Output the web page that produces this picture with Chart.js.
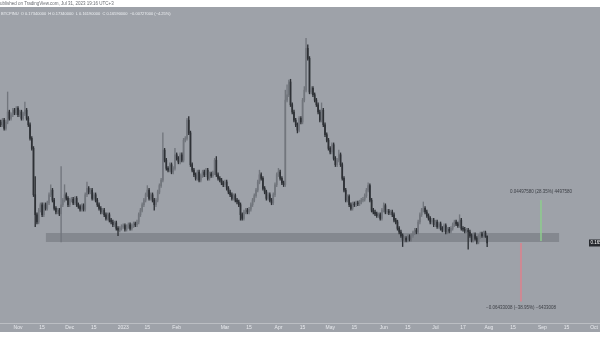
<!DOCTYPE html>
<html>
<head>
<meta charset="utf-8">
<script src="https://cdn.jsdelivr.net/npm/chart.js@4.4.0/dist/chart.umd.min.js"></script>
<style>
  html, body { margin: 0; padding: 0; background: #fff; }
  #wrap { width: 600px; height: 343px; position: relative; }
</style>
</head>
<body>
<div id="wrap"><canvas id="candles"></canvas></div>
<script>
// day 0 = 1 Nov 2022, one candle per day
const firstDay = -10;

// [open, high, low, close]
const ohlc = [
  // late Oct 2022
  [0.299,0.301,0.294,0.296],[0.296,0.303,0.294,0.301],[0.301,0.303,0.290,0.292],[0.292,0.301,0.290,0.299],
  [0.299,0.332,0.297,0.310],[0.310,0.312,0.301,0.303],[0.303,0.309,0.301,0.307],[0.307,0.314,0.305,0.312],
  [0.312,0.314,0.307,0.309],[0.309,0.316,0.307,0.314],
  // Nov
  [0.314,0.316,0.305,0.307],[0.307,0.312,0.305,0.310],[0.310,0.312,0.301,0.303],[0.303,0.310,0.301,0.308],
  [0.308,0.321,0.306,0.312],[0.312,0.314,0.301,0.303],[0.303,0.305,0.294,0.296],[0.296,0.298,0.279,0.281],
  [0.281,0.283,0.268,0.270],[0.270,0.272,0.217,0.219],[0.219,0.239,0.184,0.197],[0.197,0.199,0.187,0.189],
  [0.189,0.204,0.187,0.202],[0.202,0.210,0.200,0.208],[0.208,0.210,0.195,0.197],[0.197,0.210,0.195,0.208],
  [0.208,0.210,0.202,0.204],[0.204,0.212,0.202,0.210],[0.210,0.221,0.208,0.219],[0.219,0.230,0.217,0.224],
  [0.224,0.226,0.211,0.213],[0.213,0.215,0.202,0.204],[0.204,0.206,0.198,0.200],[0.200,0.204,0.198,0.202],
  [0.202,0.204,0.196,0.198],[0.198,0.250,0.167,0.208],[0.208,0.215,0.206,0.213],[0.213,0.230,0.211,0.219],
  [0.219,0.221,0.213,0.215],[0.215,0.217,0.206,0.208],
  // Dec
  [0.208,0.215,0.206,0.213],[0.213,0.216,0.211,0.214],[0.214,0.216,0.208,0.210],[0.210,0.217,0.208,0.215],
  [0.215,0.217,0.206,0.208],[0.208,0.210,0.204,0.206],[0.206,0.208,0.201,0.203],[0.203,0.209,0.201,0.207],
  [0.207,0.209,0.201,0.203],[0.203,0.221,0.201,0.219],[0.219,0.233,0.217,0.226],[0.226,0.228,0.220,0.222],
  [0.222,0.226,0.220,0.224],[0.224,0.226,0.213,0.215],[0.215,0.221,0.213,0.219],[0.219,0.221,0.211,0.213],
  [0.213,0.215,0.206,0.208],[0.208,0.210,0.202,0.204],[0.204,0.206,0.198,0.200],[0.200,0.204,0.198,0.202],
  [0.202,0.204,0.195,0.197],[0.197,0.199,0.191,0.193],[0.193,0.199,0.191,0.197],[0.197,0.199,0.189,0.191],
  [0.191,0.193,0.187,0.189],[0.189,0.191,0.184,0.186],[0.186,0.190,0.184,0.188],[0.188,0.190,0.180,0.182],
  [0.182,0.184,0.174,0.180],[0.180,0.184,0.178,0.182],[0.182,0.186,0.180,0.184],
  // Jan 2023
  [0.184,0.187,0.182,0.185],[0.185,0.187,0.179,0.181],[0.181,0.186,0.179,0.184],[0.184,0.188,0.182,0.186],
  [0.186,0.188,0.180,0.182],[0.182,0.187,0.180,0.185],[0.185,0.189,0.183,0.187],[0.187,0.189,0.184,0.186],
  [0.186,0.191,0.184,0.189],[0.189,0.199,0.187,0.197],[0.197,0.204,0.195,0.202],[0.202,0.210,0.200,0.208],
  [0.208,0.215,0.206,0.213],[0.213,0.221,0.211,0.219],[0.219,0.229,0.217,0.224],[0.224,0.226,0.213,0.215],
  [0.215,0.221,0.213,0.219],[0.219,0.221,0.211,0.213],[0.213,0.215,0.202,0.208],[0.208,0.215,0.206,0.213],
  [0.213,0.224,0.211,0.222],[0.222,0.231,0.220,0.229],[0.229,0.237,0.227,0.235],[0.235,0.287,0.233,0.268],
  [0.268,0.270,0.255,0.257],[0.257,0.259,0.246,0.248],[0.248,0.250,0.244,0.246],[0.246,0.254,0.244,0.252],
  [0.252,0.254,0.242,0.244],[0.244,0.250,0.242,0.248],[0.248,0.270,0.246,0.263],
  // Feb
  [0.263,0.265,0.257,0.259],[0.259,0.261,0.253,0.255],[0.255,0.265,0.253,0.263],[0.263,0.265,0.255,0.257],
  [0.257,0.281,0.255,0.279],[0.279,0.283,0.277,0.281],[0.281,0.303,0.279,0.301],[0.301,0.305,0.285,0.287],
  [0.287,0.289,0.250,0.252],[0.252,0.254,0.244,0.246],[0.246,0.248,0.239,0.241],[0.241,0.243,0.235,0.237],
  [0.237,0.246,0.235,0.244],[0.244,0.246,0.233,0.235],[0.235,0.242,0.233,0.240],[0.240,0.246,0.238,0.244],
  [0.244,0.246,0.239,0.241],[0.241,0.248,0.239,0.246],[0.246,0.248,0.235,0.237],[0.237,0.244,0.235,0.242],
  [0.242,0.244,0.238,0.240],[0.240,0.245,0.238,0.243],[0.243,0.259,0.241,0.257],[0.257,0.261,0.239,0.241],
  [0.241,0.243,0.235,0.237],[0.237,0.239,0.233,0.235],[0.235,0.237,0.230,0.232],[0.232,0.234,0.228,0.230],
  // Mar
  [0.230,0.235,0.228,0.233],[0.233,0.235,0.224,0.226],[0.226,0.228,0.220,0.222],[0.222,0.224,0.217,0.219],
  [0.219,0.221,0.213,0.215],[0.215,0.220,0.213,0.218],[0.218,0.220,0.211,0.213],[0.213,0.215,0.209,0.211],
  [0.211,0.213,0.206,0.208],[0.208,0.210,0.191,0.197],[0.197,0.199,0.191,0.193],[0.193,0.202,0.191,0.200],
  [0.200,0.204,0.198,0.202],[0.202,0.204,0.198,0.200],[0.200,0.205,0.198,0.203],[0.203,0.210,0.201,0.208],
  [0.208,0.215,0.206,0.213],[0.213,0.220,0.211,0.218],[0.218,0.226,0.216,0.224],[0.224,0.235,0.222,0.233],
  [0.233,0.246,0.231,0.241],[0.241,0.243,0.235,0.237],[0.237,0.239,0.224,0.226],[0.226,0.228,0.220,0.222],
  [0.222,0.224,0.213,0.215],[0.215,0.221,0.213,0.219],[0.219,0.221,0.211,0.213],[0.213,0.215,0.208,0.210],
  [0.210,0.221,0.208,0.219],[0.219,0.232,0.217,0.230],[0.230,0.243,0.228,0.241],
  // Apr
  [0.241,0.248,0.239,0.244],[0.244,0.246,0.235,0.237],[0.237,0.239,0.230,0.232],[0.232,0.234,0.228,0.230],
  [0.230,0.334,0.228,0.323],[0.323,0.340,0.321,0.329],[0.329,0.345,0.327,0.343],[0.343,0.346,0.316,0.318],
  [0.318,0.320,0.308,0.310],[0.310,0.312,0.299,0.301],[0.301,0.303,0.294,0.296],[0.296,0.298,0.287,0.290],
  [0.290,0.305,0.288,0.303],[0.303,0.305,0.297,0.299],[0.299,0.325,0.297,0.323],[0.323,0.338,0.321,0.334],
  [0.334,0.391,0.332,0.380],[0.380,0.384,0.367,0.369],[0.369,0.371,0.330,0.332],[0.332,0.338,0.330,0.336],
  [0.336,0.338,0.327,0.329],[0.329,0.331,0.321,0.323],[0.323,0.325,0.316,0.318],[0.318,0.320,0.308,0.310],
  [0.310,0.312,0.299,0.301],[0.301,0.320,0.299,0.312],[0.312,0.314,0.294,0.296],[0.296,0.298,0.283,0.285],
  [0.285,0.287,0.277,0.279],[0.279,0.281,0.268,0.270],
  // May
  [0.270,0.272,0.264,0.266],[0.266,0.276,0.264,0.274],[0.274,0.276,0.257,0.259],[0.259,0.261,0.250,0.252],
  [0.252,0.259,0.250,0.257],[0.257,0.268,0.255,0.263],[0.263,0.265,0.250,0.252],[0.252,0.254,0.235,0.237],
  [0.237,0.239,0.222,0.224],[0.224,0.226,0.211,0.213],[0.213,0.219,0.211,0.217],[0.217,0.219,0.206,0.208],
  [0.208,0.210,0.202,0.204],[0.204,0.211,0.202,0.209],[0.209,0.211,0.206,0.208],[0.208,0.212,0.206,0.210],
  [0.210,0.212,0.207,0.209],[0.209,0.213,0.207,0.211],[0.211,0.215,0.209,0.213],[0.213,0.216,0.211,0.214],
  [0.214,0.220,0.212,0.218],[0.218,0.226,0.216,0.224],[0.224,0.232,0.222,0.229],[0.229,0.231,0.211,0.213],
  [0.213,0.215,0.200,0.202],[0.202,0.204,0.198,0.200],[0.200,0.202,0.196,0.198],[0.198,0.200,0.194,0.196],
  [0.196,0.199,0.194,0.197],[0.197,0.199,0.191,0.193],[0.193,0.204,0.191,0.202],
  // Jun
  [0.202,0.210,0.200,0.207],[0.207,0.209,0.198,0.200],[0.200,0.203,0.198,0.201],[0.201,0.203,0.197,0.199],
  [0.199,0.202,0.197,0.200],[0.200,0.202,0.195,0.197],[0.197,0.199,0.189,0.191],[0.191,0.193,0.187,0.189],
  [0.189,0.191,0.180,0.182],[0.182,0.184,0.176,0.178],[0.178,0.180,0.172,0.174],[0.174,0.176,0.162,0.169],
  [0.169,0.173,0.167,0.171],[0.171,0.173,0.167,0.169],[0.169,0.175,0.167,0.173],[0.173,0.175,0.168,0.170],
  [0.170,0.176,0.168,0.174],[0.174,0.179,0.172,0.177],[0.177,0.182,0.175,0.180],[0.180,0.182,0.176,0.178],
  [0.178,0.191,0.176,0.189],[0.189,0.199,0.187,0.197],[0.197,0.204,0.195,0.202],[0.202,0.211,0.200,0.204],
  [0.204,0.206,0.198,0.200],[0.200,0.202,0.194,0.196],[0.196,0.198,0.191,0.193],[0.193,0.195,0.187,0.189],
  [0.189,0.193,0.187,0.191],[0.191,0.193,0.184,0.186],
  // Jul
  [0.186,0.191,0.184,0.189],[0.189,0.191,0.182,0.184],[0.184,0.189,0.182,0.187],[0.187,0.189,0.180,0.182],
  [0.182,0.184,0.178,0.180],[0.180,0.187,0.178,0.185],[0.185,0.187,0.176,0.178],[0.178,0.183,0.176,0.181],
  [0.181,0.183,0.177,0.179],[0.179,0.184,0.177,0.182],[0.182,0.188,0.180,0.186],[0.186,0.191,0.184,0.189],
  [0.189,0.191,0.185,0.187],[0.187,0.189,0.183,0.185],[0.185,0.197,0.183,0.191],[0.191,0.193,0.180,0.182],
  [0.182,0.184,0.179,0.181],[0.181,0.183,0.177,0.179],[0.179,0.182,0.177,0.180],[0.180,0.182,0.159,0.178],
  [0.178,0.180,0.172,0.174],[0.174,0.176,0.167,0.169],[0.169,0.177,0.167,0.175],[0.175,0.177,0.169,0.171],
  [0.171,0.173,0.165,0.167],[0.167,0.175,0.165,0.173],[0.173,0.178,0.171,0.176],[0.176,0.178,0.172,0.174],
  [0.174,0.179,0.172,0.177],[0.177,0.179,0.172,0.1732],[0.1734,0.1734,0.1619,0.1659]
];

const tickDays   = [0, 14, 30, 44, 61, 75, 92, 120, 134, 151, 165, 181, 195, 212, 226, 242, 258, 273, 287, 304, 318, 334];
const tickLabels = ['Nov', '15', 'Dec', '15', '2023', '15', 'Feb', 'Mar', '15', 'Apr', '15', 'May', '15', 'Jun', '15', 'Jul', '17', 'Aug', '15', 'Sep', '15', 'Oct'];

// support zone (days, prices)
const zoneDays = [16.2, 313.7];
const zonePrices = [0.1670, 0.1769];

// price range measurements: [day, from, to]
const measureUp = [303.2, 0.1680, 0.2130];
const measureDown = [291.6, 0.1659, 0.1016];
const measureUpText = '0.04497580 (28.35%) 4497580';
const measureDownText = '\u22120.06433008 (\u221238.95%) \u22126433008';

const lastPrice = 0.1659;
const publishedText = 'Published on TradingView.com, Jul 31, 2023 19:16 UTC+3';
const legendText = 'BTCPINU  O 0.17340000  H 0.17340000  L 0.16190000  C 0.16590000  \u22120.00727000 (\u22124.25%)';

const bgColor = '#9ea2a9';
const upColor = '#72767d';
const downColor = '#2e3136';
const fontFamily = '"Liberation Sans", Arial, sans-serif';

const days = ohlc.map((c, i) => firstDay + i);
const candleColor = ctx => {
  const c = ohlc[ctx.dataIndex];
  return c[3] >= c[0] ? upColor : downColor;
};

const decor = {
  id: 'decor',
  beforeDraw(chart) {
    const c = chart.ctx;
    c.save();
    c.fillStyle = '#ffffff';
    c.fillRect(0, 0, chart.width, chart.height);
    c.fillStyle = bgColor;
    c.fillRect(0, 7, chart.width, 325);
    c.restore();
  },
  beforeDatasetsDraw(chart) {
    const c = chart.ctx, x = chart.scales.x, y = chart.scales.y;
    c.save();
    c.fillStyle = 'rgba(112,115,122,0.55)';
    const x0 = x.getPixelForValue(zoneDays[0]), x1 = x.getPixelForValue(zoneDays[1]);
    const y0 = y.getPixelForValue(zonePrices[1]), y1 = y.getPixelForValue(zonePrices[0]);
    c.fillRect(x0, y0, x1 - x0, y1 - y0);
    c.restore();
  },
  afterDatasetsDraw(chart) {
    const c = chart.ctx, x = chart.scales.x, y = chart.scales.y;
    c.save();
    // measure bars
    const ux = x.getPixelForValue(measureUp[0]);
    const uy0 = y.getPixelForValue(measureUp[1]), uy1 = y.getPixelForValue(measureUp[2]);
    c.fillStyle = 'rgba(140,205,140,0.75)';
    c.fillRect(ux - 1, uy1, 2, uy0 - uy1);
    const dx = x.getPixelForValue(measureDown[0]);
    const dy0 = y.getPixelForValue(measureDown[1]), dy1 = y.getPixelForValue(measureDown[2]);
    c.fillStyle = 'rgba(222,128,140,0.75)';
    c.fillRect(dx - 1, dy0, 2, dy1 - dy0);

    c.font = '4.5px ' + fontFamily;
    c.fillStyle = '#3c3f45';
    c.textAlign = 'center';
    c.textBaseline = 'middle';
    c.fillText(measureUpText, ux, uy1 - 8);
    c.fillText(measureDownText, dx, dy1 + 6);

    // last price label on the price axis
    const py = y.getPixelForValue(lastPrice);
    c.fillStyle = '#26292e';
    c.fillRect(589, py - 3.5, 12, 7);
    c.fillStyle = '#ffffff';
    c.textAlign = 'left';
    c.font = '4.5px ' + fontFamily;
    c.fillText('0.16590000', 590.5, py);
    c.restore();
  },
  afterDraw(chart) {
    const c = chart.ctx;
    c.save();
    c.textBaseline = 'middle';
    c.textAlign = 'left';
    c.font = '4.5px ' + fontFamily;
    c.fillStyle = '#6a6d73';
    c.fillText(publishedText, -3, 3.5);
    c.font = '4px ' + fontFamily;
    c.fillStyle = '#eef0f3';
    c.fillText(legendText, 1, 14);
    c.restore();
  }
};

new Chart(document.getElementById('candles'), {
  type: 'bar',
  data: {
    datasets: [
      {
        label: 'wick',
        data: ohlc.map((c, i) => ({ x: days[i], y: [c[2], c[1]] })),
        backgroundColor: candleColor,
        barThickness: 0.7,
        grouped: false,
        borderWidth: 0
      },
      {
        label: 'body',
        data: ohlc.map((c, i) => ({ x: days[i], y: [c[0], c[3]] })),
        backgroundColor: candleColor,
        barThickness: 1.0,
        grouped: false,
        borderWidth: 0
      }
    ]
  },
  options: {
    responsive: true,
    maintainAspectRatio: false,
    animation: false,
    devicePixelRatio: 1,
    layout: { padding: { top: 8, left: 0, right: 0, bottom: 0 } },
    plugins: {
      legend: { display: false },
      tooltip: { enabled: false }
    },
    scales: {
      x: {
        type: 'linear',
        min: -10.42,
        max: 336.9,
        offset: false,
        grid: { display: false, drawTicks: false },
        border: { display: true, color: 'rgba(255,255,255,0.3)' },
        afterBuildTicks: s => { s.ticks = tickDays.map(v => ({ value: v })); },
        afterFit: s => { s.height = 20; },
        ticks: {
          autoSkip: false,
          maxRotation: 0,
          padding: 2,
          color: '#e8eaee',
          font: { size: 5, family: fontFamily },
          callback: v => tickLabels[tickDays.indexOf(v)]
        }
      },
      y: {
        display: false,
        min: 0.0779,
        max: 0.4244
      }
    }
  },
  plugins: [decor]
});
</script>
</body>
</html>
